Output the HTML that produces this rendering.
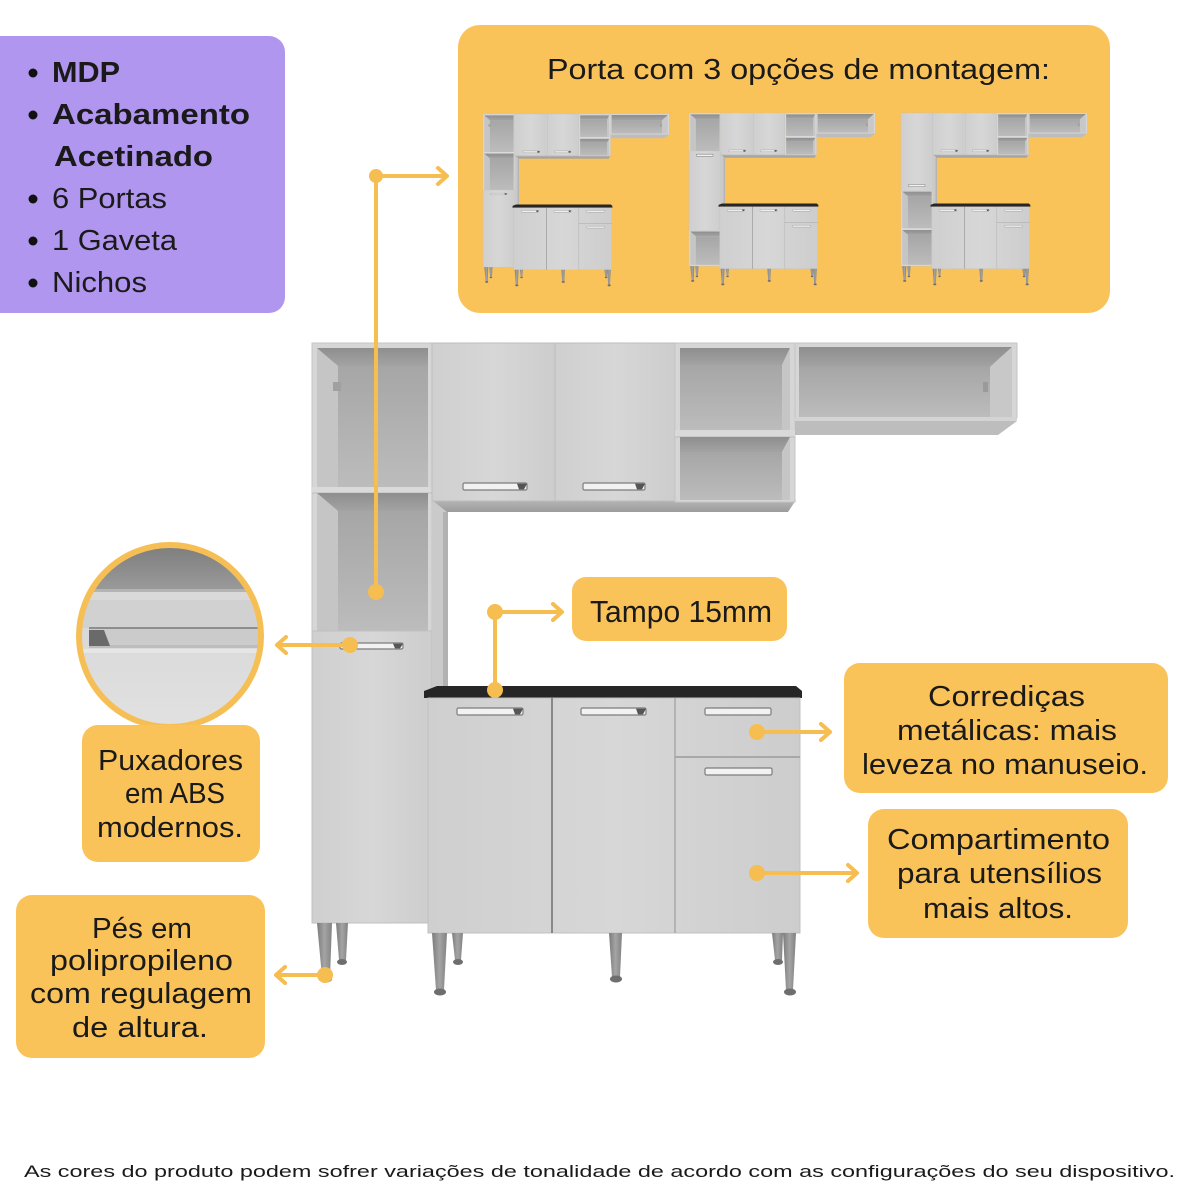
<!DOCTYPE html>
<html>
<head>
<meta charset="utf-8">
<style>
  html,body{margin:0;padding:0;background:#ffffff;}
  svg{display:block;}
  text{font-family:"Liberation Sans", sans-serif; fill:#1a1a1a;}
</style>
</head>
<body>
<svg width="1200" height="1200" viewBox="0 0 1200 1200" xmlns="http://www.w3.org/2000/svg">
<defs>
  <linearGradient id="gBack" x1="0" y1="0" x2="0" y2="1">
    <stop offset="0" stop-color="#a6a6a6"/>
    <stop offset="1" stop-color="#bcbcbc"/>
  </linearGradient>
  <linearGradient id="gTop" x1="0" y1="0" x2="0" y2="1">
    <stop offset="0" stop-color="#8e8e8e"/>
    <stop offset="1" stop-color="#a3a3a3"/>
  </linearGradient>
  <linearGradient id="gDoor" x1="0" y1="0" x2="1" y2="0">
    <stop offset="0" stop-color="#cfcfcf"/>
    <stop offset="0.5" stop-color="#d7d7d7"/>
    <stop offset="1" stop-color="#cdcdcd"/>
  </linearGradient>
  <linearGradient id="gLeg" x1="0" y1="0" x2="1" y2="0">
    <stop offset="0" stop-color="#7c7c7c"/>
    <stop offset="0.5" stop-color="#a4a4a4"/>
    <stop offset="1" stop-color="#828282"/>
  </linearGradient>
  <linearGradient id="gUnder" x1="0" y1="0" x2="0" y2="1">
    <stop offset="0" stop-color="#b5b5b5"/>
    <stop offset="1" stop-color="#9c9c9c"/>
  </linearGradient>
  <linearGradient id="gCircTop" x1="0" y1="0" x2="0" y2="1">
    <stop offset="0" stop-color="#7a7a7a"/>
    <stop offset="1" stop-color="#9a9a9a"/>
  </linearGradient>
  <linearGradient id="gCircLow" x1="0" y1="0" x2="0" y2="1">
    <stop offset="0" stop-color="#d2d2d2"/>
    <stop offset="1" stop-color="#e2e2e2"/>
  </linearGradient>
  <clipPath id="circClip"><circle cx="170" cy="636" r="91"/></clipPath>

  <!-- common part of cabinet (everything except tall column) -->
  <g id="common">
    <rect x="432" y="500" width="16" height="188" fill="#cacaca"/>
    <rect x="443" y="512" width="5" height="176" fill="#b2b2b2"/>
    <polygon points="432,500 796,500 788,512 447,512" fill="url(#gUnder)"/>
    <rect x="432" y="343" width="123" height="158" fill="url(#gDoor)" stroke="#bdbdbd" stroke-width="1"/>
    <rect x="555" y="343" width="120" height="158" fill="url(#gDoor)" stroke="#bdbdbd" stroke-width="1"/>
    <rect x="463" y="483" width="64" height="7" rx="1.5" fill="#f2f2f2" stroke="#7d7d7d" stroke-width="1.2"/>
    <polygon points="517,483.6 527,483.6 524,489.4 519,489.4" fill="#555"/>
    <rect x="583" y="483" width="62" height="7" rx="1.5" fill="#f2f2f2" stroke="#7d7d7d" stroke-width="1.2"/>
    <polygon points="635,483.6 645,483.6 642,489.4 637,489.4" fill="#555"/>
    <rect x="675" y="343" width="120" height="159" fill="#d6d6d6" stroke="#c4c4c4" stroke-width="1"/>
    <polygon points="680,348 790,348 782,365 680,365" fill="url(#gTop)"/>
    <polygon points="782,365 790,348 790,430 782,430" fill="#c6c6c6"/>
    <rect x="680" y="365" width="102" height="65" fill="url(#gBack)"/>
    <rect x="675" y="430" width="120" height="7" fill="#d9d9d9"/>
    <line x1="675" y1="437" x2="795" y2="437" stroke="#bcbcbc" stroke-width="1"/>
    <polygon points="680,437 790,437 782,452 680,452" fill="url(#gTop)"/>
    <polygon points="782,452 790,437 790,500 782,500" fill="#c6c6c6"/>
    <rect x="680" y="452" width="102" height="48" fill="url(#gBack)"/>
    <rect x="795" y="343" width="222" height="75" fill="#d6d6d6" stroke="#c4c4c4" stroke-width="1"/>
    <polygon points="799,347 1012,347 990,367 799,367" fill="url(#gTop)"/>
    <polygon points="990,367 1012,347 1012,417 990,417" fill="#c8c8c8"/>
    <rect x="799" y="367" width="191" height="50" fill="url(#gBack)"/>
    <rect x="983" y="382" width="5" height="10" fill="#9a9a9a"/>
    <polygon points="795,417 1017,417 1017,421 998,435 795,435" fill="#bdbdbd"/>
    <rect x="795" y="417" width="222" height="4" fill="#d4d4d4"/>
    <!-- countertop -->
    <polygon points="437,686 796,686 802,691 802,698 424,698 424,691" fill="#262626"/>
    <!-- base -->
    <rect x="428" y="698" width="372" height="235" fill="url(#gDoor)" stroke="#c0c0c0" stroke-width="1"/>
    <line x1="552" y1="698" x2="552" y2="933" stroke="#6e6e6e" stroke-width="1.5"/>
    <line x1="675" y1="698" x2="675" y2="933" stroke="#a8a8a8" stroke-width="1.5"/>
    <line x1="675" y1="757" x2="800" y2="757" stroke="#a8a8a8" stroke-width="2"/>
    <rect x="457" y="708" width="66" height="7" rx="1.5" fill="#f2f2f2" stroke="#7d7d7d" stroke-width="1.2"/>
    <polygon points="513,708.6 523,708.6 520,714.4 515,714.4" fill="#555"/>
    <rect x="581" y="708" width="65" height="7" rx="1.5" fill="#f2f2f2" stroke="#7d7d7d" stroke-width="1.2"/>
    <polygon points="636,708.6 646,708.6 643,714.4 638,714.4" fill="#555"/>
    <rect x="705" y="708" width="66" height="7" rx="1.5" fill="#f2f2f2" stroke="#7d7d7d" stroke-width="1.2"/>
    <rect x="705" y="768" width="67" height="7" rx="1.5" fill="#f2f2f2" stroke="#7d7d7d" stroke-width="1.2"/>
    <!-- legs -->
    <polygon points="452,933 463,933 461,960 455,960" fill="url(#gLeg)"/>
    <ellipse cx="458" cy="962" rx="5" ry="3" fill="#6e6e6e"/>
    <polygon points="772,933 783,933 782,960 775,960" fill="url(#gLeg)"/>
    <ellipse cx="778" cy="962" rx="5" ry="3" fill="#6e6e6e"/>
    <polygon points="432,933 447,933 444,990 436,990" fill="url(#gLeg)"/>
    <ellipse cx="440" cy="992" rx="6" ry="3.5" fill="#6e6e6e"/>
    <polygon points="609,933 622,933 620,977 612,977" fill="url(#gLeg)"/>
    <ellipse cx="616" cy="979" rx="6" ry="3.5" fill="#6e6e6e"/>
    <polygon points="783,933 796,933 793,990 786,990" fill="url(#gLeg)"/>
    <ellipse cx="790" cy="992" rx="6" ry="3.5" fill="#6e6e6e"/>
    <polygon points="336,923 348,923 346,960 339,960" fill="url(#gLeg)"/>
    <ellipse cx="342" cy="962" rx="5" ry="3" fill="#6e6e6e"/>
    <polygon points="317,923 332,923 330,977 322,977" fill="url(#gLeg)"/>
    <ellipse cx="326" cy="979" rx="6" ry="3.5" fill="#6e6e6e"/>
  </g>

  <g id="tallA">
    <rect x="312" y="343" width="120" height="580" fill="#d6d6d6" stroke="#c4c4c4" stroke-width="1"/>
    <polygon points="317,348 338,366 338,487 317,487" fill="#c5c5c5"/>
    <polygon points="317,348 428,348 428,366 338,366" fill="url(#gTop)"/>
    <rect x="338" y="366" width="90" height="121" fill="url(#gBack)"/>
    <rect x="333" y="382" width="8" height="9" fill="#a0a0a0"/>
    <rect x="312" y="487" width="120" height="6" fill="#dadada"/>
    <line x1="312" y1="493" x2="432" y2="493" stroke="#bdbdbd" stroke-width="1"/>
    <polygon points="317,493 338,511 338,631 317,631" fill="#c5c5c5"/>
    <polygon points="317,493 428,493 428,511 338,511" fill="url(#gTop)"/>
    <rect x="338" y="511" width="90" height="120" fill="url(#gBack)"/>
    <rect x="312" y="631" width="120" height="292" fill="url(#gDoor)" stroke="#c0c0c0" stroke-width="1"/>
    <rect x="340" y="643" width="63" height="6" rx="1.5" fill="#f2f2f2" stroke="#7d7d7d" stroke-width="1.2"/>
    <polygon points="393,643.6 403,643.6 400,648.4 395,648.4" fill="#555"/>
  </g>

  <g id="tallB">
    <rect x="312" y="343" width="120" height="580" fill="#d6d6d6" stroke="#c4c4c4" stroke-width="1"/>
    <polygon points="317,348 338,366 338,487 317,487" fill="#c5c5c5"/>
    <polygon points="317,348 428,348 428,366 338,366" fill="url(#gTop)"/>
    <rect x="338" y="366" width="90" height="121" fill="url(#gBack)"/>
    <rect x="312" y="487" width="120" height="300" fill="url(#gDoor)" stroke="#c0c0c0" stroke-width="1"/>
    <rect x="340" y="499" width="63" height="8" rx="1.5" fill="#f2f2f2" stroke="#7d7d7d" stroke-width="2"/>
    <polygon points="317,792 338,810 338,918 317,918" fill="#c5c5c5"/>
    <polygon points="317,792 428,792 428,810 338,810" fill="url(#gTop)"/>
    <rect x="338" y="810" width="90" height="108" fill="url(#gBack)"/>
  </g>

  <g id="tallC">
    <rect x="312" y="343" width="120" height="580" fill="#d6d6d6" stroke="#c4c4c4" stroke-width="1"/>
    <rect x="312" y="343" width="120" height="293" fill="url(#gDoor)" stroke="#c0c0c0" stroke-width="1"/>
    <rect x="340" y="614" width="63" height="8" rx="1.5" fill="#f2f2f2" stroke="#7d7d7d" stroke-width="2"/>
    <polygon points="317,641 338,659 338,780 317,780" fill="#c5c5c5"/>
    <polygon points="317,641 428,641 428,659 338,659" fill="url(#gTop)"/>
    <rect x="338" y="659" width="90" height="121" fill="url(#gBack)"/>
    <rect x="312" y="780" width="120" height="6" fill="#dadada"/>
    <polygon points="317,786 338,804 338,918 317,918" fill="#c5c5c5"/>
    <polygon points="317,786 428,786 428,804 338,804" fill="url(#gTop)"/>
    <rect x="338" y="804" width="90" height="114" fill="url(#gBack)"/>
  </g>
</defs>

<!-- Purple feature box -->
<rect x="-20" y="36" width="305" height="277" rx="16" fill="#b196ef"/>
<circle cx="33" cy="73" r="4.5" fill="#111"/>
<circle cx="33" cy="115" r="4.5" fill="#111"/>
<circle cx="33" cy="199" r="4.5" fill="#111"/>
<circle cx="33" cy="241" r="4.5" fill="#111"/>
<circle cx="33" cy="283" r="4.5" fill="#111"/>
<text x="52" y="82" font-size="29" font-weight="bold" textLength="68" lengthAdjust="spacingAndGlyphs">MDP</text>
<text x="52" y="124" font-size="29" font-weight="bold" textLength="198" lengthAdjust="spacingAndGlyphs">Acabamento</text>
<text x="54" y="166" font-size="29" font-weight="bold" textLength="159" lengthAdjust="spacingAndGlyphs">Acetinado</text>
<text x="52" y="208" font-size="29" textLength="115" lengthAdjust="spacingAndGlyphs">6 Portas</text>
<text x="52" y="250" font-size="29" textLength="125" lengthAdjust="spacingAndGlyphs">1 Gaveta</text>
<text x="52" y="292" font-size="29" textLength="95" lengthAdjust="spacingAndGlyphs">Nichos</text>

<!-- Top yellow box -->
<rect x="458" y="25" width="652" height="288" rx="22" fill="#fac35a"/>
<text x="547" y="79" font-size="29" textLength="503" lengthAdjust="spacingAndGlyphs">Porta com 3 opções de montagem:</text>

<!-- thumbnails -->
<g transform="translate(483,114) scale(0.264) translate(-312,-343)">
  <use href="#tallA"/><use href="#common"/>
</g>
<g transform="translate(689,113) scale(0.264) translate(-312,-343)">
  <use href="#tallB"/><use href="#common"/>
</g>
<g transform="translate(901,113) scale(0.264) translate(-312,-343)">
  <use href="#tallC"/><use href="#common"/>
</g>

<!-- Main cabinet -->
<use href="#tallA"/>
<use href="#common"/>

<!-- Zoom circle -->
<g clip-path="url(#circClip)">
  <rect x="70" y="540" width="200" height="200" fill="url(#gCircLow)"/>
  <rect x="70" y="540" width="200" height="50" fill="url(#gCircTop)"/>
  <rect x="70" y="589" width="200" height="3" fill="#b4b4b4"/>
  <rect x="70" y="592" width="200" height="8" fill="#d9d9d9"/>
  <rect x="70" y="600" width="200" height="28" fill="#d1d1d1"/>
  <rect x="89" y="627" width="180" height="2" fill="#8e8e8e"/>
  <rect x="89" y="629" width="180" height="18" fill="#cbcbcb"/>
  <rect x="89" y="645" width="180" height="3" fill="#bdbdbd"/>
  <polygon points="89,630 104,630 110,646 89,646" fill="#6a6a6a"/>
  <rect x="70" y="649" width="200" height="4" fill="#e6e6e6"/>
</g>
<circle cx="170" cy="636" r="91" fill="none" stroke="#f6bf55" stroke-width="6"/>

<!-- Callout boxes -->
<rect x="572" y="577" width="215" height="64" rx="14" fill="#fac35a"/>
<text x="590" y="622" font-size="31" textLength="182" lengthAdjust="spacingAndGlyphs">Tampo 15mm</text>

<rect x="844" y="663" width="324" height="130" rx="16" fill="#fac35a"/>
<text x="928" y="706" font-size="29" textLength="157" lengthAdjust="spacingAndGlyphs">Corrediças</text>
<text x="897" y="740" font-size="29" textLength="220" lengthAdjust="spacingAndGlyphs">metálicas: mais</text>
<text x="862" y="774" font-size="29" textLength="286" lengthAdjust="spacingAndGlyphs">leveza no manuseio.</text>

<rect x="868" y="809" width="260" height="129" rx="16" fill="#fac35a"/>
<text x="887" y="849" font-size="29" textLength="223" lengthAdjust="spacingAndGlyphs">Compartimento</text>
<text x="897" y="883" font-size="29" textLength="205" lengthAdjust="spacingAndGlyphs">para utensílios</text>
<text x="923" y="918" font-size="29" textLength="150" lengthAdjust="spacingAndGlyphs">mais altos.</text>

<rect x="82" y="725" width="178" height="137" rx="16" fill="#fac35a"/>
<text x="98" y="770" font-size="29" textLength="145" lengthAdjust="spacingAndGlyphs">Puxadores</text>
<text x="125" y="803" font-size="29" textLength="100" lengthAdjust="spacingAndGlyphs">em ABS</text>
<text x="97" y="837" font-size="29" textLength="146" lengthAdjust="spacingAndGlyphs">modernos.</text>

<rect x="16" y="895" width="249" height="163" rx="16" fill="#fac35a"/>
<text x="92" y="938" font-size="29" textLength="100" lengthAdjust="spacingAndGlyphs">Pés em</text>
<text x="50" y="970" font-size="29" textLength="183" lengthAdjust="spacingAndGlyphs">polipropileno</text>
<text x="30" y="1003" font-size="29" textLength="222" lengthAdjust="spacingAndGlyphs">com regulagem</text>
<text x="72" y="1037" font-size="29" textLength="136" lengthAdjust="spacingAndGlyphs">de altura.</text>

<!-- Connectors -->
<g stroke="#f6bd50" stroke-width="4" fill="none" stroke-linecap="round" stroke-linejoin="round">
  <line x1="376" y1="176" x2="446" y2="176"/>
  <polyline points="438,168 447,176 438,184"/>
  <line x1="376" y1="176" x2="376" y2="592"/>

  <line x1="350" y1="645" x2="278" y2="645"/>
  <polyline points="286,637 277,645 286,653"/>

  <line x1="495" y1="612" x2="561" y2="612"/>
  <polyline points="553,604 562,612 553,620"/>
  <line x1="495" y1="612" x2="495" y2="690"/>

  <line x1="757" y1="732" x2="829" y2="732"/>
  <polyline points="821,724 830,732 821,740"/>

  <line x1="757" y1="873" x2="856" y2="873"/>
  <polyline points="848,865 857,873 848,881"/>

  <line x1="325" y1="975" x2="277" y2="975"/>
  <polyline points="285,967 276,975 285,983"/>
</g>
<g fill="#f6bd50">
  <circle cx="376" cy="176" r="7"/>
  <circle cx="376" cy="592" r="8"/>
  <circle cx="350" cy="645" r="8"/>
  <circle cx="495" cy="612" r="8"/>
  <circle cx="495" cy="690" r="8"/>
  <circle cx="757" cy="732" r="8"/>
  <circle cx="757" cy="873" r="8"/>
  <circle cx="325" cy="975" r="8"/>
</g>

<!-- Footer -->
<text x="24" y="1177" font-size="16.5" fill="#222" textLength="1151" lengthAdjust="spacingAndGlyphs">As cores do produto podem sofrer variações de tonalidade de acordo com as configurações do seu dispositivo.</text>
</svg>
</body>
</html>
